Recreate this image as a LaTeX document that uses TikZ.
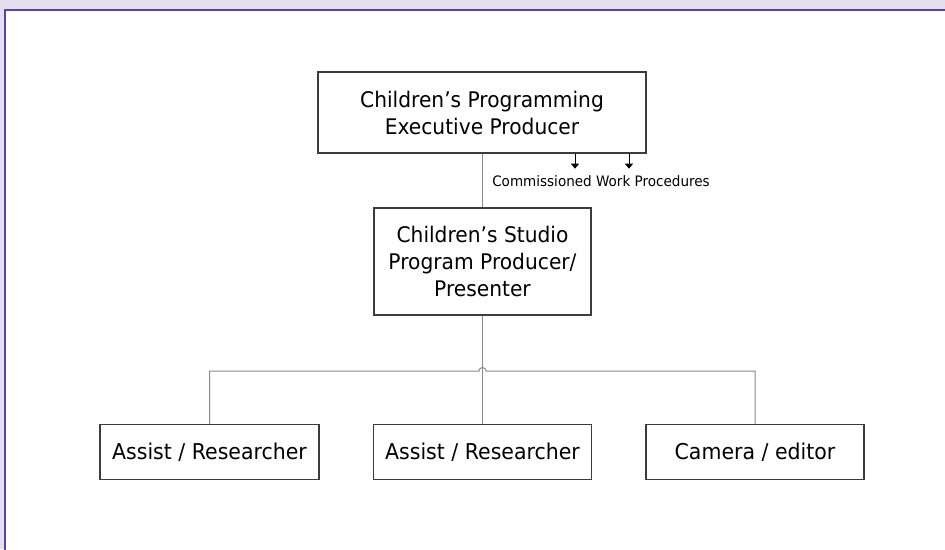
\documentclass[tikz,border=0pt]{standalone}
\usepackage{fontspec}
\setmainfont{DejaVu Sans}[FakeStretch=0.94]
\usetikzlibrary{arrows.meta}
\definecolor{panelbg}{HTML}{E1DFF0}
\definecolor{panelrule}{HTML}{5A40A8}
\definecolor{boxrule}{HTML}{3C3C3C}
\definecolor{linkgray}{HTML}{8A8A8A}
\tikzset{
    x=1pt, y=-1pt,
    post/.style={
        draw=boxrule,
        line width=1.4pt,
        align=center,
        inner sep=0pt,
        font=\fontsize{21.5}{27}\selectfont
    },
    staff/.style={
        post,
        minimum width=218,
        minimum height=55,
        font=\fontsize{21.8}{27}\selectfont
    },
    link/.style={
        draw=linkgray,
        line width=1pt
    },
    feed/.style={
        draw=black,
        line width=1pt,
        -{Triangle[width=8pt,length=5pt]}
    }
}
\begin{document}
\begin{tikzpicture}
    \useasboundingbox (0,0) rectangle (945,549);
    \fill[panelbg] (0,0) rectangle (945,549);
    \fill[white] (5,10) rectangle (945,549);
    \draw[panelrule, line width=2pt] (946,10) -- (5,10) -- (5,550);
    % posts
    \node[post, minimum width=328, minimum height=81] (exec) at (482,112.5)
        {Children’s Programming\\Executive Producer};
    \node[post, minimum width=217, minimum height=107] (studio) at (482.5,261.5)
        {Children’s Studio\\Program Producer/\\Presenter};
    \node[staff, minimum width=219] (asstA) at (209.5,452) {Assist / Researcher};
    \node[staff] (asstB) at (482.5,452) {Assist / Researcher};
    \node[staff] (cam) at (755,452) {Camera / editor};
    % links
    \draw[link] (studio.north) -- (studio.north |- exec.south);
    \draw[link] (studio.south) -- (asstB.north);
    \coordinate (bus) at (482.5,371);
    \draw[link] (asstA.north) |- ([xshift=-3.5]bus)
        arc[start angle=180, end angle=360, radius=3.5] -- (cam.north |- bus) -- (cam.north);
    % procedures
    \draw[feed] ([xshift=93]exec.south) -- ++(0,15);
    \draw[feed] ([xshift=147]exec.south) -- ++(0,15);
    \node[font=\fontsize{14.4}{16}\selectfont, inner sep=0pt] (proc) at (601,181) {Commissioned Work Procedures};
\end{tikzpicture}
\end{document}
